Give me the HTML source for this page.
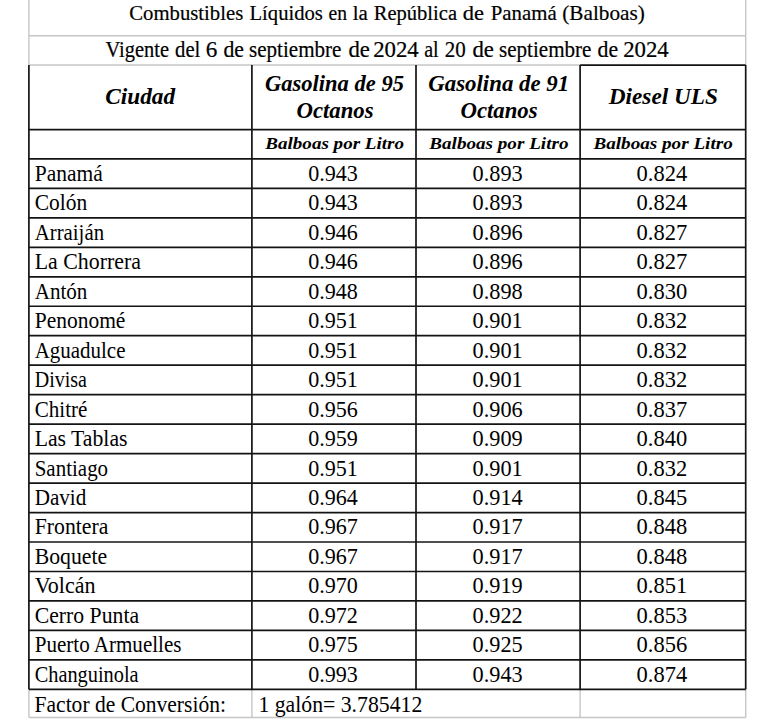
<!DOCTYPE html><html><head><meta charset="utf-8"><style>html,body{margin:0;padding:0;background:#fff;width:780px;height:721px;overflow:hidden}svg{display:block}text{font-family:"Liberation Serif",serif;stroke-width:0}.t{stroke-width:0.2}.h{font-weight:bold;font-style:italic;stroke-width:0}</style></head><body>
<svg width="780" height="721" viewBox="0 0 780 721">
<line x1="28.9" y1="0" x2="28.9" y2="65.0" stroke="#c6c6c6" stroke-width="1.4"/>
<line x1="745.7" y1="0" x2="745.7" y2="65.0" stroke="#c6c6c6" stroke-width="1.4"/>
<line x1="28.9" y1="35.7" x2="745.7" y2="35.7" stroke="#c6c6c6" stroke-width="1.4"/>
<line x1="28.9" y1="65.0" x2="580.1" y2="65.0" stroke="#c6c6c6" stroke-width="1.4"/>
<line x1="28.9" y1="689.36" x2="28.9" y2="717.5" stroke="#c6c6c6" stroke-width="1.4"/>
<line x1="251.9" y1="689.36" x2="251.9" y2="717.5" stroke="#c6c6c6" stroke-width="1.4"/>
<line x1="580.1" y1="689.36" x2="580.1" y2="717.5" stroke="#c6c6c6" stroke-width="1.4"/>
<line x1="745.7" y1="689.36" x2="745.7" y2="717.5" stroke="#c6c6c6" stroke-width="1.4"/>
<line x1="28.9" y1="717.5" x2="745.7" y2="717.5" stroke="#c6c6c6" stroke-width="1.4"/>
<line x1="580.1" y1="65.1" x2="745.7" y2="65.1" stroke="#141414" stroke-width="1.7"/>
<line x1="28.9" y1="65.0" x2="28.9" y2="689.36" stroke="#141414" stroke-width="1.7"/>
<line x1="251.9" y1="65.0" x2="251.9" y2="689.36" stroke="#141414" stroke-width="1.7"/>
<line x1="416.0" y1="65.0" x2="416.0" y2="689.36" stroke="#141414" stroke-width="1.7"/>
<line x1="580.1" y1="65.0" x2="580.1" y2="689.36" stroke="#141414" stroke-width="1.7"/>
<line x1="745.7" y1="65.0" x2="745.7" y2="689.36" stroke="#141414" stroke-width="1.7"/>
<line x1="28.9" y1="129.7" x2="745.7" y2="129.7" stroke="#141414" stroke-width="1.7"/>
<line x1="28.9" y1="158.9" x2="745.7" y2="158.9" stroke="#141414" stroke-width="1.7"/>
<line x1="28.9" y1="188.37" x2="745.7" y2="188.37" stroke="#141414" stroke-width="1.7"/>
<line x1="28.9" y1="217.84" x2="745.7" y2="217.84" stroke="#141414" stroke-width="1.7"/>
<line x1="28.9" y1="247.31" x2="745.7" y2="247.31" stroke="#141414" stroke-width="1.7"/>
<line x1="28.9" y1="276.78" x2="745.7" y2="276.78" stroke="#141414" stroke-width="1.7"/>
<line x1="28.9" y1="306.25" x2="745.7" y2="306.25" stroke="#141414" stroke-width="1.7"/>
<line x1="28.9" y1="335.72" x2="745.7" y2="335.72" stroke="#141414" stroke-width="1.7"/>
<line x1="28.9" y1="365.19" x2="745.7" y2="365.19" stroke="#141414" stroke-width="1.7"/>
<line x1="28.9" y1="394.66" x2="745.7" y2="394.66" stroke="#141414" stroke-width="1.7"/>
<line x1="28.9" y1="424.13" x2="745.7" y2="424.13" stroke="#141414" stroke-width="1.7"/>
<line x1="28.9" y1="453.6" x2="745.7" y2="453.6" stroke="#141414" stroke-width="1.7"/>
<line x1="28.9" y1="483.07" x2="745.7" y2="483.07" stroke="#141414" stroke-width="1.7"/>
<line x1="28.9" y1="512.54" x2="745.7" y2="512.54" stroke="#141414" stroke-width="1.7"/>
<line x1="28.9" y1="542.01" x2="745.7" y2="542.01" stroke="#141414" stroke-width="1.7"/>
<line x1="28.9" y1="571.48" x2="745.7" y2="571.48" stroke="#141414" stroke-width="1.7"/>
<line x1="28.9" y1="600.95" x2="745.7" y2="600.95" stroke="#141414" stroke-width="1.7"/>
<line x1="28.9" y1="630.42" x2="745.7" y2="630.42" stroke="#141414" stroke-width="1.7"/>
<line x1="28.9" y1="659.89" x2="745.7" y2="659.89" stroke="#141414" stroke-width="1.7"/>
<line x1="28.9" y1="689.36" x2="745.7" y2="689.36" stroke="#141414" stroke-width="1.7"/>
<text class="t" font-size="21" fill="#000" stroke="#000" transform="translate(129.26,19.5) scale(0.9868,1.03)">Combustibles</text>
<text class="t" font-size="21" fill="#000" stroke="#000" transform="translate(249.51,19.5) scale(0.9829,1.03)">Líquidos</text>
<text class="t" font-size="21" fill="#000" stroke="#000" transform="translate(328.50,19.5) scale(0.9333,1.03)">en</text>
<text class="t" font-size="21" fill="#000" stroke="#000" transform="translate(352.80,19.5) scale(0.9965,1.03)">la</text>
<text class="t" font-size="21" fill="#000" stroke="#000" transform="translate(373.71,19.5) scale(0.9792,1.03)">República</text>
<text class="t" font-size="21" fill="#000" stroke="#000" transform="translate(462.73,19.5) scale(1.0700,1.03)">de</text>
<text class="t" font-size="21" fill="#000" stroke="#000" transform="translate(490.80,19.5) scale(0.9916,1.03)">Panamá</text>
<text class="t" font-size="21" fill="#000" stroke="#000" transform="translate(562.29,19.5) scale(1.0113,1.03)">(Balboas)</text>
<text class="t" font-size="21.6" fill="#000" stroke="#000" transform="translate(105.56,57.4) scale(0.9470,1.03)">Vigente</text>
<text class="t" font-size="21.6" fill="#000" stroke="#000" transform="translate(175.08,57.4) scale(0.9584,1.03)">del</text>
<text class="t" font-size="21.6" fill="#000" stroke="#000" transform="translate(205.68,57.4) scale(1.0700,1.03)">6</text>
<text class="t" font-size="21.6" fill="#000" stroke="#000" transform="translate(223.45,57.4) scale(1.0053,1.03)">de</text>
<text class="t" font-size="21.6" fill="#000" stroke="#000" transform="translate(249.02,57.4) scale(0.9763,1.03)">septiembre</text>
<text class="t" font-size="21.6" fill="#000" stroke="#000" transform="translate(348.41,57.4) scale(1.0526,1.03)">de</text>
<text class="t" font-size="21.6" fill="#000" stroke="#000" transform="translate(373.14,57.4) scale(1.0563,1.03)">2024</text>
<text class="t" font-size="21.6" fill="#000" stroke="#000" transform="translate(424.21,57.4) scale(0.9300,1.03)">al</text>
<text class="t" font-size="21.6" fill="#000" stroke="#000" transform="translate(444.83,57.4) scale(0.9722,1.03)">20</text>
<text class="t" font-size="21.6" fill="#000" stroke="#000" transform="translate(472.51,57.4) scale(1.0526,1.03)">de</text>
<text class="t" font-size="21.6" fill="#000" stroke="#000" transform="translate(499.02,57.4) scale(0.9763,1.03)">septiembre</text>
<text class="t" font-size="21.6" fill="#000" stroke="#000" transform="translate(597.54,57.4) scale(1.0105,1.03)">de</text>
<text class="t" font-size="21.6" fill="#000" stroke="#000" transform="translate(623.14,57.4) scale(1.0563,1.03)">2024</text>
<text class="h" font-size="23" fill="#000" stroke="#000" transform="translate(105.24,103.8) scale(1.0117,1.0)">Ciudad</text>
<text class="h" font-size="23" fill="#000" stroke="#000" transform="translate(264.96,91.4) scale(0.9801,1.0)">Gasolina de 95</text>
<text class="h" font-size="23" fill="#000" stroke="#000" transform="translate(296.46,117.8) scale(0.9895,1.0)">Octanos</text>
<text class="h" font-size="23" fill="#000" stroke="#000" transform="translate(428.25,91.4) scale(0.9946,1.0)">Gasolina de 91</text>
<text class="h" font-size="23" fill="#000" stroke="#000" transform="translate(460.46,117.8) scale(0.9895,1.0)">Octanos</text>
<text class="h" font-size="23" fill="#000" stroke="#000" transform="translate(608.75,103.8) scale(1.0126,1.0)">Diesel ULS</text>
<text class="h" font-size="17.5" fill="#000" stroke="#000" transform="translate(265.27,148.6) scale(1.0898,1.0)">Balboas por Litro</text>
<text class="h" font-size="17.5" fill="#000" stroke="#000" transform="translate(429.27,148.6) scale(1.0929,1.0)">Balboas por Litro</text>
<text class="h" font-size="17.5" fill="#000" stroke="#000" transform="translate(593.47,148.6) scale(1.0945,1.0)">Balboas por Litro</text>
<text font-size="21.2" fill="#000" stroke="#000" transform="translate(34.70,180.8) scale(1.0157,1.07)">Panamá</text>
<text font-size="21.2" fill="#000" stroke="#000" transform="translate(34.70,210.27) scale(1.0117,1.07)">Colón</text>
<text font-size="21.2" fill="#000" stroke="#000" transform="translate(34.70,239.74) scale(0.9822,1.07)">Arraiján</text>
<text font-size="21.2" fill="#000" stroke="#000" transform="translate(34.70,269.21) scale(1.0312,1.07)">La Chorrera</text>
<text font-size="21.2" fill="#000" stroke="#000" transform="translate(34.70,298.68) scale(0.9953,1.07)">Antón</text>
<text font-size="21.2" fill="#000" stroke="#000" transform="translate(34.70,328.15) scale(1.0141,1.07)">Penonomé</text>
<text font-size="21.2" fill="#000" stroke="#000" transform="translate(34.70,357.62) scale(0.9890,1.07)">Aguadulce</text>
<text font-size="21.2" fill="#000" stroke="#000" transform="translate(34.70,387.09) scale(0.9455,1.07)">Divisa</text>
<text font-size="21.2" fill="#000" stroke="#000" transform="translate(34.70,416.56) scale(0.9952,1.07)">Chitré</text>
<text font-size="21.2" fill="#000" stroke="#000" transform="translate(34.70,446.03) scale(1.0251,1.07)">Las Tablas</text>
<text font-size="21.2" fill="#000" stroke="#000" transform="translate(34.70,475.5) scale(0.9898,1.07)">Santiago</text>
<text font-size="21.2" fill="#000" stroke="#000" transform="translate(34.70,504.97) scale(0.9961,1.07)">David</text>
<text font-size="21.2" fill="#000" stroke="#000" transform="translate(34.70,534.44) scale(1.0252,1.07)">Frontera</text>
<text font-size="21.2" fill="#000" stroke="#000" transform="translate(34.70,563.91) scale(1.0265,1.07)">Boquete</text>
<text font-size="21.2" fill="#000" stroke="#000" transform="translate(34.70,593.38) scale(1.0403,1.07)">Volcán</text>
<text font-size="21.2" fill="#000" stroke="#000" transform="translate(34.70,622.85) scale(1.0256,1.07)">Cerro Punta</text>
<text font-size="21.2" fill="#000" stroke="#000" transform="translate(34.70,652.32) scale(0.9939,1.07)">Puerto Armuelles</text>
<text font-size="21.2" fill="#000" stroke="#000" transform="translate(34.70,681.79) scale(0.9593,1.07)">Changuinola</text>
<text font-size="21.2" fill="#000" stroke="#000" transform="translate(34.54,712.2) scale(1.0164,1.07)">Factor de Conversión:</text>
<text font-size="21.2" fill="#000" stroke="#000" transform="translate(258.40,712.2) scale(1.0258,1.07)">1 galón= 3.785412</text>
<text font-size="21.2" fill="#000" stroke="#000" transform="translate(308.22,180.8) scale(1.0413,1.07)">0.943</text>
<text font-size="21.2" fill="#000" stroke="#000" transform="translate(308.22,210.27) scale(1.0413,1.07)">0.943</text>
<text font-size="21.2" fill="#000" stroke="#000" transform="translate(308.22,239.74) scale(1.0413,1.07)">0.946</text>
<text font-size="21.2" fill="#000" stroke="#000" transform="translate(308.22,269.21) scale(1.0413,1.07)">0.946</text>
<text font-size="21.2" fill="#000" stroke="#000" transform="translate(308.22,298.68) scale(1.0413,1.07)">0.948</text>
<text font-size="21.2" fill="#000" stroke="#000" transform="translate(308.22,328.15) scale(1.0413,1.07)">0.951</text>
<text font-size="21.2" fill="#000" stroke="#000" transform="translate(308.22,357.62) scale(1.0413,1.07)">0.951</text>
<text font-size="21.2" fill="#000" stroke="#000" transform="translate(308.22,387.09) scale(1.0413,1.07)">0.951</text>
<text font-size="21.2" fill="#000" stroke="#000" transform="translate(308.22,416.56) scale(1.0413,1.07)">0.956</text>
<text font-size="21.2" fill="#000" stroke="#000" transform="translate(308.22,446.03) scale(1.0413,1.07)">0.959</text>
<text font-size="21.2" fill="#000" stroke="#000" transform="translate(308.22,475.5) scale(1.0413,1.07)">0.951</text>
<text font-size="21.2" fill="#000" stroke="#000" transform="translate(308.22,504.97) scale(1.0413,1.07)">0.964</text>
<text font-size="21.2" fill="#000" stroke="#000" transform="translate(308.22,534.44) scale(1.0413,1.07)">0.967</text>
<text font-size="21.2" fill="#000" stroke="#000" transform="translate(308.22,563.91) scale(1.0413,1.07)">0.967</text>
<text font-size="21.2" fill="#000" stroke="#000" transform="translate(308.22,593.38) scale(1.0413,1.07)">0.970</text>
<text font-size="21.2" fill="#000" stroke="#000" transform="translate(308.22,622.85) scale(1.0413,1.07)">0.972</text>
<text font-size="21.2" fill="#000" stroke="#000" transform="translate(308.22,652.32) scale(1.0413,1.07)">0.975</text>
<text font-size="21.2" fill="#000" stroke="#000" transform="translate(308.22,681.79) scale(1.0413,1.07)">0.993</text>
<text font-size="21.2" fill="#000" stroke="#000" transform="translate(472.51,180.8) scale(1.0522,1.07)">0.893</text>
<text font-size="21.2" fill="#000" stroke="#000" transform="translate(472.51,210.27) scale(1.0522,1.07)">0.893</text>
<text font-size="21.2" fill="#000" stroke="#000" transform="translate(472.51,239.74) scale(1.0522,1.07)">0.896</text>
<text font-size="21.2" fill="#000" stroke="#000" transform="translate(472.51,269.21) scale(1.0522,1.07)">0.896</text>
<text font-size="21.2" fill="#000" stroke="#000" transform="translate(472.51,298.68) scale(1.0522,1.07)">0.898</text>
<text font-size="21.2" fill="#000" stroke="#000" transform="translate(472.51,328.15) scale(1.0522,1.07)">0.901</text>
<text font-size="21.2" fill="#000" stroke="#000" transform="translate(472.51,357.62) scale(1.0522,1.07)">0.901</text>
<text font-size="21.2" fill="#000" stroke="#000" transform="translate(472.51,387.09) scale(1.0522,1.07)">0.901</text>
<text font-size="21.2" fill="#000" stroke="#000" transform="translate(472.51,416.56) scale(1.0522,1.07)">0.906</text>
<text font-size="21.2" fill="#000" stroke="#000" transform="translate(472.51,446.03) scale(1.0522,1.07)">0.909</text>
<text font-size="21.2" fill="#000" stroke="#000" transform="translate(472.51,475.5) scale(1.0522,1.07)">0.901</text>
<text font-size="21.2" fill="#000" stroke="#000" transform="translate(472.51,504.97) scale(1.0522,1.07)">0.914</text>
<text font-size="21.2" fill="#000" stroke="#000" transform="translate(472.51,534.44) scale(1.0522,1.07)">0.917</text>
<text font-size="21.2" fill="#000" stroke="#000" transform="translate(472.51,563.91) scale(1.0522,1.07)">0.917</text>
<text font-size="21.2" fill="#000" stroke="#000" transform="translate(472.51,593.38) scale(1.0522,1.07)">0.919</text>
<text font-size="21.2" fill="#000" stroke="#000" transform="translate(472.51,622.85) scale(1.0522,1.07)">0.922</text>
<text font-size="21.2" fill="#000" stroke="#000" transform="translate(472.51,652.32) scale(1.0522,1.07)">0.925</text>
<text font-size="21.2" fill="#000" stroke="#000" transform="translate(472.51,681.79) scale(1.0522,1.07)">0.943</text>
<text font-size="21.2" fill="#000" stroke="#000" transform="translate(636.50,180.8) scale(1.0624,1.07)">0.824</text>
<text font-size="21.2" fill="#000" stroke="#000" transform="translate(636.50,210.27) scale(1.0624,1.07)">0.824</text>
<text font-size="21.2" fill="#000" stroke="#000" transform="translate(636.50,239.74) scale(1.0624,1.07)">0.827</text>
<text font-size="21.2" fill="#000" stroke="#000" transform="translate(636.50,269.21) scale(1.0624,1.07)">0.827</text>
<text font-size="21.2" fill="#000" stroke="#000" transform="translate(636.50,298.68) scale(1.0624,1.07)">0.830</text>
<text font-size="21.2" fill="#000" stroke="#000" transform="translate(636.50,328.15) scale(1.0624,1.07)">0.832</text>
<text font-size="21.2" fill="#000" stroke="#000" transform="translate(636.50,357.62) scale(1.0624,1.07)">0.832</text>
<text font-size="21.2" fill="#000" stroke="#000" transform="translate(636.50,387.09) scale(1.0624,1.07)">0.832</text>
<text font-size="21.2" fill="#000" stroke="#000" transform="translate(636.50,416.56) scale(1.0624,1.07)">0.837</text>
<text font-size="21.2" fill="#000" stroke="#000" transform="translate(636.50,446.03) scale(1.0624,1.07)">0.840</text>
<text font-size="21.2" fill="#000" stroke="#000" transform="translate(636.50,475.5) scale(1.0624,1.07)">0.832</text>
<text font-size="21.2" fill="#000" stroke="#000" transform="translate(636.50,504.97) scale(1.0624,1.07)">0.845</text>
<text font-size="21.2" fill="#000" stroke="#000" transform="translate(636.50,534.44) scale(1.0624,1.07)">0.848</text>
<text font-size="21.2" fill="#000" stroke="#000" transform="translate(636.50,563.91) scale(1.0624,1.07)">0.848</text>
<text font-size="21.2" fill="#000" stroke="#000" transform="translate(636.50,593.38) scale(1.0624,1.07)">0.851</text>
<text font-size="21.2" fill="#000" stroke="#000" transform="translate(636.50,622.85) scale(1.0624,1.07)">0.853</text>
<text font-size="21.2" fill="#000" stroke="#000" transform="translate(636.50,652.32) scale(1.0624,1.07)">0.856</text>
<text font-size="21.2" fill="#000" stroke="#000" transform="translate(636.50,681.79) scale(1.0624,1.07)">0.874</text>
</svg></body></html>
